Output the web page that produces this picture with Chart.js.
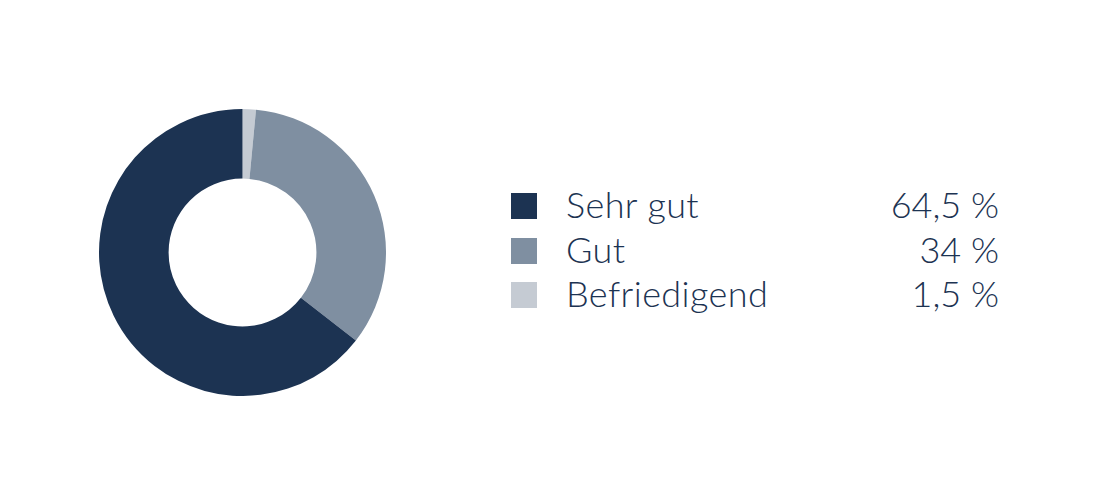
<!DOCTYPE html>
<html>
<head>
<meta charset="utf-8">
<script src="https://cdn.jsdelivr.net/npm/chart.js@4"></script>
<style>
  html, body { margin: 0; padding: 0; background: #ffffff; }
  body { width: 1100px; height: 500px; position: relative; overflow: hidden; font-family: Lato, "Open Sans", sans-serif; }
  #wrap { position: absolute; left: 99px; top: 109px; width: 287px; height: 287px; }
  #legend { position: absolute; left: 511px; top: 184px; width: 488px; }
  .row { position: relative; height: 44.5px; color: #1c3352; font-size: 36px; font-weight: 300; line-height: 40px; }
  .sw { position: absolute; left: 0; top: 9px; width: 26px; height: 26px; }
  .lab { position: absolute; left: 55px; top: 0; white-space: nowrap; letter-spacing: 0.4px; }
  .val { position: absolute; right: 0; top: 0; white-space: nowrap; }
</style>
</head>
<body>
<div id="wrap"><canvas id="c"></canvas></div>
<div id="legend"></div>
<script>
// Data (chart order: clockwise from top)
const categories = ["Befriedigend", "Gut", "Sehr gut"];
const values = [1.5, 34, 64.5];
const colors = ["#c5cbd3", "#7f8fa1", "#1c3352"];
const valueLabels = ["1,5 %", "34 %", "64,5 %"];
// Legend order
const legendOrder = [2, 1, 0];

const legend = document.getElementById('legend');
legendOrder.forEach(i => {
  const row = document.createElement('div');
  row.className = 'row';
  row.innerHTML = '<div class="sw" style="background:' + colors[i] + '"></div>' +
    '<div class="lab">' + categories[i] + '</div>' +
    '<div class="val">' + valueLabels[i] + '</div>';
  legend.appendChild(row);
});

new Chart(document.getElementById('c'), {
  type: 'doughnut',
  data: {
    labels: categories,
    datasets: [{
      data: values,
      backgroundColor: colors,
      borderWidth: 0
    }]
  },
  options: {
    responsive: true,
    maintainAspectRatio: false,
    animation: false,
    cutout: '51.5%',
    rotation: 0,
    layout: { padding: 0 },
    plugins: {
      legend: { display: false },
      tooltip: { enabled: false }
    }
  }
});
</script>
</body>
</html>
